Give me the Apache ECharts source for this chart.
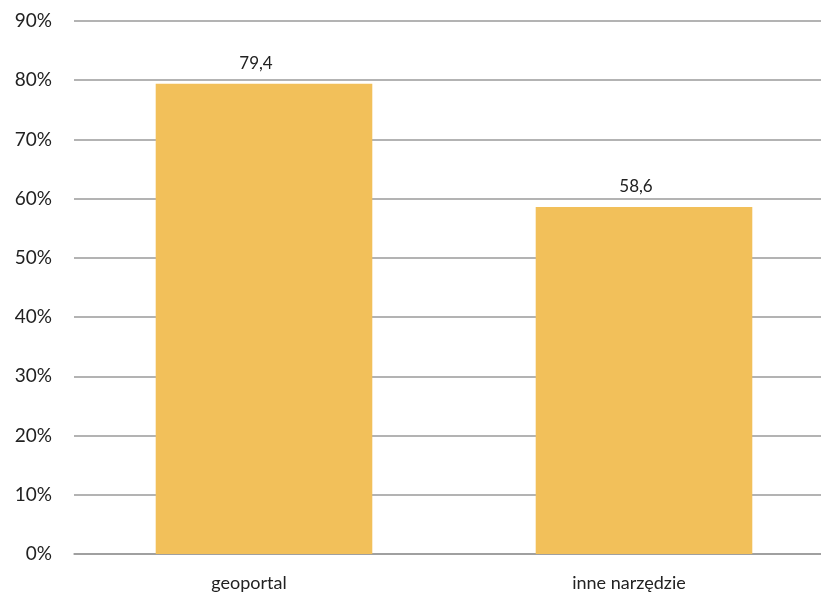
<!DOCTYPE html>
<html>
<head>
<meta charset="utf-8">
<script src="https://cdn.jsdelivr.net/npm/echarts@6/dist/echarts.min.js"></script>
<style>
  html, body { margin: 0; padding: 0; background: #fff; overflow: hidden; }
  #chart { width: 821px; height: 598px; }
</style>
</head>
<body>
<div id="chart"></div>
<script>
// Share of respondents using each tool (%)
const categories = ['geoportal', 'inne narzędzie'];
const values = [79.4, 58.6];
const yTicks = { min: 0, max: 90, interval: 10 };

const FONT = 'Lato';
const chart = echarts.init(document.getElementById('chart'));
chart.setOption({
  animation: false,
  grid: {
    left: 74, right: -13, top: 21, bottom: 44,
    outerBoundsMode: 'none', containLabel: false
  },
  xAxis: {
    type: 'category',
    data: categories,
    axisLine: { lineStyle: { color: '#9a9a9a', width: 1.5 } },
    axisTick: { show: false },
    axisLabel: {
      color: '#222', fontFamily: FONT, fontSize: 18, margin: 20,
      padding: [0, 30, 0, 0]
    }
  },
  yAxis: {
    type: 'value',
    min: yTicks.min, max: yTicks.max, interval: yTicks.interval,
    axisLine: { show: false },
    axisTick: { show: false },
    splitLine: { lineStyle: { color: '#9a9a9a', width: 1.5 } },
    axisLabel: {
      color: '#222', fontFamily: FONT, fontSize: 19, margin: 22,
      formatter: v => v + '%'
    }
  },
  series: [{
    type: 'bar',
    data: values,
    barWidth: '57%',
    itemStyle: { color: '#F2C05A' },
    label: {
      show: true, position: 'top', distance: 12, offset: [-8, 0],
      color: '#222', fontFamily: FONT, fontSize: 17,
      formatter: p => String(p.value).replace('.', ',')
    }
  }]
});
</script>
</body>
</html>
